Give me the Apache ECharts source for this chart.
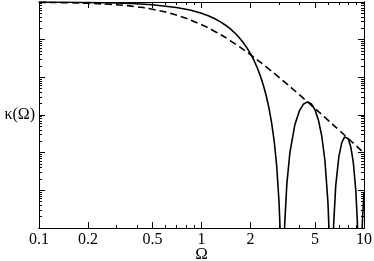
<!DOCTYPE html>
<html>
<head>
<meta charset="utf-8">
<script src="https://cdn.jsdelivr.net/npm/echarts@6/dist/echarts.min.js"></script>
<style>
  html, body { margin: 0; padding: 0; background: #fff; }
  #chartBox { width: 374px; height: 261px; }
</style>
</head>
<body>
<div id="chartBox"></div>
<script>
// values (solid curve: kappa, dashed curve: its envelope)
var solidOmega = [0.1, 0.15, 0.2, 0.3, 0.4, 0.5, 0.7, 0.85, 1.0, 1.1, 1.2, 1.3, 1.4, 1.5, 1.6, 1.7, 1.8, 1.9, 2.0,
  2.1, 2.2, 2.3, 2.4, 2.5, 2.6, 2.7, 2.8, 2.9, 3.0, 3.05, 3.1, 3.14, 3.18, 3.25, 3.35, 3.5, 3.75, 4.0, 4.25, 4.5,
  4.75, 5.0, 5.25, 5.5, 5.75, 6.0, 6.1, 6.2, 6.283, 6.35, 6.5, 6.7, 7.0, 7.3, 7.6, 7.8, 8.0, 8.3, 8.6, 8.9, 9.1,
  9.25, 9.35, 9.42, 9.5, 9.65, 9.8, 10];
var solidKappa = [0.99335, 0.98510, 0.97364, 0.94159, 0.89831, 0.84529, 0.71736, 0.61029, 0.50137, 0.43087,
  0.36392, 0.30181, 0.24549, 0.19556, 0.15233, 0.11579, 0.085679, 0.061532, 0.042727,
  0.028549, 0.018240, 0.011050, 0.0062743, 0.0032841, 0.0015454, 6.2777e-4, 2.0488e-4, 4.633e-5, 4.896e-6,
  8.088e-7, 3.237e-8, 6.6e-14, 2.126e-8, 1.2283e-6, 1.4551e-5, 1.0090e-4, 5.394e-4, 0.0012814, 0.0019666, 0.0022267,
  0.0019588, 0.0013529, 7.165e-4, 2.708e-4, 6.106e-5, 4.703e-6, 7.953e-7, 3.2256e-8, 1e-15, 1.222e-8, 1.1997e-6,
  1.3333e-5, 7.760e-5, 1.8460e-4, 2.6309e-4, 2.6859e-4, 2.3391e-4, 1.3948e-4, 5.318e-5, 1.0047e-5, 1.5120e-6,
  1.2490e-7, 4.076e-9, 6.6e-14, 3.916e-9, 2.868e-7, 1.9559e-6, 8.759e-6];

var dashOmega = [0.1, 0.15, 0.2, 0.3, 0.4, 0.5, 0.7, 1, 1.2, 1.5, 2, 2.5, 3, 4, 5, 6, 7, 8, 9, 10];
var dashKappa = [0.98030, 0.95647, 0.92456, 0.84168, 0.74316, 0.64, 0.45043, 0.25, 0.16796, 0.094675, 0.04,
  0.019025, 0.01, 0.0034602, 0.0014793, 7.305e-4, 4e-4, 2.367e-4, 1.4872e-4, 9.803e-5];

// tick positions and labels
var xTickLabels = [0.1, 0.2, 0.5, 1, 2, 5, 10];
var xMinorTicks = [0.3, 0.4, 0.6, 0.7, 0.8, 0.9, 3, 4, 6, 7, 8, 9];
var yMajorTicks = [1e-6, 1e-5, 1e-4, 1e-3, 1e-2, 1e-1, 1];
var yMinorTicks = [];
for (var k = -6; k < 0; k++) {
  for (var m = 2; m <= 9; m++) {
    yMinorTicks.push(m * Math.pow(10, k));
  }
}

var serif = 'Liberation Serif';

function pairs(xs, ys) {
  var out = [];
  for (var i = 0; i < xs.length; i++) out.push([xs[i], ys[i]]);
  return out;
}

function xAxisDef(pos, ticks, len, showLabel, name) {
  return {
    type: 'log', position: pos, min: 0.1, max: 10, logBase: 10,
    axisLine: { show: true, lineStyle: { color: '#000', width: 1 } },
    axisTick: { show: true, inside: true, length: len, customValues: ticks, lineStyle: { color: '#000' } },
    axisLabel: showLabel ? { show: true, customValues: ticks, margin: 4, color: '#000', fontSize: 16, fontFamily: serif,
      formatter: function (v) { return String(v); } } : { show: false },
    splitLine: { show: false },
    minorTick: { show: false },
    name: name || '', nameLocation: 'middle', nameGap: 18, nameMoveOverlap: false,
    nameTextStyle: { color: '#000', fontSize: 17, fontFamily: serif }
  };
}

function yAxisDef(pos, ticks, len, name) {
  return {
    type: 'log', position: pos, min: 1e-6, max: 1, logBase: 10,
    axisLine: { show: true, lineStyle: { color: '#000', width: 1 } },
    axisTick: { show: true, inside: true, length: len, customValues: ticks, lineStyle: { color: '#000' } },
    axisLabel: { show: false },
    splitLine: { show: false },
    minorTick: { show: false },
    name: name || '', nameLocation: 'middle', nameGap: 4, nameRotate: 0, nameMoveOverlap: false,
    nameTextStyle: { color: '#000', fontSize: 16, fontFamily: serif, align: 'right' }
  };
}

var chart = echarts.init(document.getElementById('chartBox'));
var option = {
  animation: false,
  backgroundColor: '#fff',
  grid: { left: 39, right: 10, top: 2, bottom: 33, containLabel: false, outerBoundsMode: 'none' },
  xAxis: [
    xAxisDef('bottom', xTickLabels, 6, true, 'Ω'),
    xAxisDef('bottom', xMinorTicks, 3, false),
    xAxisDef('top', xTickLabels, 6, false),
    xAxisDef('top', xMinorTicks, 3, false)
  ],
  yAxis: [
    yAxisDef('left', yMajorTicks, 6, 'κ(Ω)'),
    yAxisDef('left', yMinorTicks, 3),
    yAxisDef('right', yMajorTicks, 6),
    yAxisDef('right', yMinorTicks, 3)
  ],
  series: [
    {
      name: 'kappa', type: 'line', xAxisIndex: 0, yAxisIndex: 0,
      data: pairs(solidOmega, solidKappa),
      showSymbol: false, smooth: false, clip: true,
      lineStyle: { color: '#000', width: 1.6 }
    },
    {
      name: 'envelope', type: 'line', xAxisIndex: 0, yAxisIndex: 0,
      data: pairs(dashOmega, dashKappa),
      showSymbol: false, smooth: true, clip: true,
      lineStyle: { color: '#000', width: 1.6, type: [7, 4] }
    }
  ]
};
chart.setOption(option);
</script>
</body>
</html>
